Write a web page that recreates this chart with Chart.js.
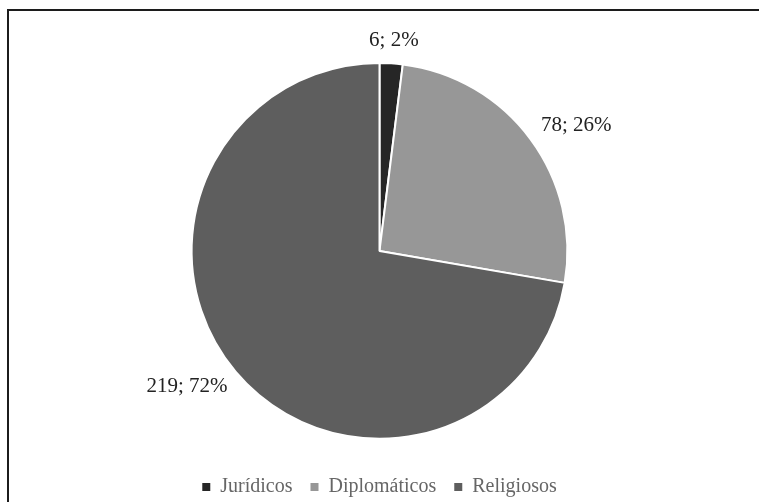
<!DOCTYPE html>
<html>
<head>
<meta charset="utf-8">
<script src="https://cdn.jsdelivr.net/npm/chart.js@4"></script>
<style>
  html, body { margin: 0; padding: 0; background: #fff; }
  #wrap { position: relative; width: 759px; height: 502px; }
  #frame { position: absolute; left: 7px; top: 9px; right: 0; bottom: 0;
           border-top: 2px solid #1c1c1c; border-left: 2px solid #1c1c1c; }
  canvas { position: absolute; left: 0; top: 0; }
</style>
</head>
<body>
<div id="wrap">
  <div id="frame"></div>
  <canvas id="pieChart" width="759" height="502"></canvas>
</div>
<script>
const categories = ['Jurídicos', 'Diplomáticos', 'Religiosos'];
const counts = [6, 78, 219];
const percents = ['2%', '26%', '72%'];
const colours = ['#262626', '#979797', '#5e5e5e'];

// labels "n; p%" outside each slice, like the Excel outside-end labels
const outsideLabels = {
    id: 'outsideLabels',
    afterDatasetsDraw(chart) {
        const ctx = chart.ctx;
        ctx.save();
        ctx.font = '21px "Liberation Serif"';
        ctx.fillStyle = '#222222';
        ctx.textAlign = 'center';
        ctx.textBaseline = 'middle';
        chart.getDatasetMeta(0).data.forEach((arc, i) => {
            const { x, y, outerRadius, startAngle, endAngle } = arc.getProps(
                ['x', 'y', 'outerRadius', 'startAngle', 'endAngle'], true);
            const mid = (startAngle + endAngle) / 2;
            const txt = counts[i] + '; ' + percents[i];
            const w = ctx.measureText(txt).width;
            const h = 20;
            const r = outerRadius + 11;
            const cx = x + Math.cos(mid) * r + Math.cos(mid) * w * 0.65;
            const cy = y + Math.sin(mid) * r + Math.sin(mid) * h * 0.6;
            ctx.fillText(txt, cx, cy);
        });
        ctx.restore();
    }
};

new Chart(document.getElementById('pieChart'), {
    type: 'pie',
    data: {
        labels: categories,
        datasets: [{
            data: counts,
            backgroundColor: colours,
            borderColor: '#ffffff',
            borderWidth: 2
        }]
    },
    options: {
        responsive: false,
        animation: false,
        layout: { padding: { top: 62, bottom: -5, left: 0, right: 0 } },
        plugins: {
            tooltip: { enabled: false },
            legend: {
                position: 'bottom',
                // empty title only pushes the legend row down
                title: { display: true, text: '', font: { size: 1 }, padding: { top: 18, bottom: 0 } },
                labels: {
                    font: { family: '"Liberation Serif"', size: 20 },
                    color: '#222222',
                    boxWidth: 8,
                    boxHeight: 8,
                    padding: 18,
                    generateLabels(chart) {
                        return categories.map((c, i) => ({
                            text: c,
                            fillStyle: colours[i],
                            strokeStyle: colours[i],
                            lineWidth: 0,
                            index: i,
                            hidden: false
                        }));
                    }
                }
            }
        }
    },
    plugins: [outsideLabels]
});
</script>
</body>
</html>
